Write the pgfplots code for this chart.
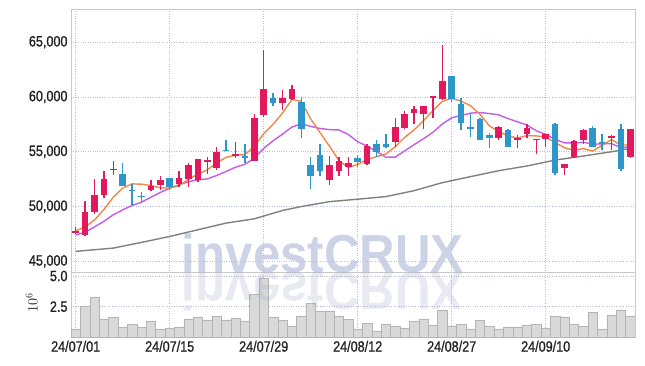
\documentclass[border=0pt]{standalone}
\usepackage{pgfplots}
\pgfplotsset{compat=1.18}
\usepackage{pgfplotstable}
\usepackage{graphicx}
\usepackage{fontspec}
\setmainfont{Liberation Sans}[FakeStretch=0.86]
\newfontfamily\tickfont{Liberation Sans}[FakeStretch=0.84, FakeBold=0.9]
\newfontfamily\wmfont{Liberation Sans}

\definecolor{cup}{HTML}{E3195E}
\definecolor{cdn}{HTML}{2E96C8}
\definecolor{maf}{HTML}{F0884C}
\definecolor{mam}{HTML}{C55CE6}
\definecolor{mas}{HTML}{808080}
\definecolor{gridc}{HTML}{B9BFD6}
\definecolor{framec}{HTML}{C8C8C8}
\definecolor{volf}{HTML}{D9D9D9}
\definecolor{vold}{HTML}{B5B5B5}
\definecolor{wm}{HTML}{CDD3E7}
\definecolor{wmr}{HTML}{9AA0C0}
\definecolor{lab}{HTML}{222222}

% up (red) candles: x open high low close
\pgfplotstableread{
x o h l c
0 47600 48100 47500 47800
1 47400 50500 47350 49500
2 49500 52500 49350 51050
3 51050 53200 50800 52500
4 53300 54200 52900 53450
8 51550 52400 51450 51900
9 51950 52800 51500 52400
11 52050 53250 51800 52600
12 52500 53950 51800 53800
13 52450 54350 52250 54300
14 54050 54500 52950 54250
15 53500 55450 53350 55000
17 54650 55900 54450 54800
19 54200 58400 54150 58050
20 58350 64300 58200 60750
22 59450 60650 58800 59900
23 59800 61100 59700 60750
27 52450 54650 51950 53750
28 53200 54500 52750 54200
29 53650 54500 52800 53950
31 53900 55750 53750 55500
34 55900 58100 55450 57250
35 57200 58750 57100 58400
36 58550 59150 57500 58900
37 58400 59150 57050 59150
38 59880 60050 58100 60050
39 59800 64700 59700 61500
45 56250 57350 56100 57250
47 56050 56500 55300 56250
48 56650 57500 56300 57150
49 56030 56200 54750 56150
50 56200 56650 55450 56600
52 53500 53900 52900 53900
53 54500 56050 54450 55950
54 56100 57100 55700 56950
57 56250 56550 55150 56450
59 54550 57050 54450 57050
}\up

% down (blue) candles
\pgfplotstableread{
x o h l c
5 52950 53950 51900 51900
6 51550 52100 50150 51400
7 50980 51350 50450 50850
10 52600 52650 51500 51750
16 55200 56050 55100 55050
18 54600 55700 53950 54450
21 59900 60400 59200 59450
24 59500 60000 56300 57100
25 53800 54500 51600 52750
26 54700 55700 52750 53200
30 54400 54700 53650 54100
32 55700 56050 54550 55000
33 55700 56650 55300 55450
40 61900 61900 59550 59800
41 59400 59950 56950 57600
42 57250 58550 56350 57100
43 57950 58050 56100 56100
44 56500 56750 55300 56250
46 56950 57050 55400 55450
51 57550 57650 52900 53050
55 57150 57350 55450 55450
56 55850 56650 55150 55750
58 57050 57500 53250 53450
}\down

% moving averages
\pgfplotstableread{
x m5 m10
0 47790 47400
1 48130 47650
2 48780 48150
3 49720 48650
4 50860 49250
5 51680 49700
6 52070 50100
7 52040 50400
8 51920 50850
9 51710 51285
10 51680 51680
11 51910 51990
12 52490 52265
13 52970 52445
14 53340 52525
15 53990 52835
16 54490 53200
17 54690 53590
18 54730 53850
19 55490 54415
20 56640 55315
21 57510 56000
22 58530 56610
23 59780 57255
24 59590 57540
25 57990 57315
26 56740 57125
27 55510 57020
28 54200 56990
29 53570 56580
30 53840 55915
31 54300 55520
32 54550 55030
33 54800 54500
34 55460 54515
35 56320 55080
36 57000 55650
37 57830 56190
38 58750 56775
39 59600 57530
40 59880 58100
41 59620 58310
42 59210 58520
43 58420 58585
44 57370 58485
45 56860 58370
46 56430 58025
47 56260 57735
48 56470 57445
49 56450 56910
50 56320 56590
51 55840 56135
52 55370 55815
53 55130 55800
54 55290 55870
55 55060 55690
56 55600 55720
57 56110 55740
58 55610 55370
59 55630 55460
}\ma

\pgfplotstableread{
x m
0 45910
4 46210
7 46730
10 47270
13 47880
16 48490
19 48880
22 49640
24 50000
27 50450
30 50670
33 50910
36 51450
39 52180
42 52730
45 53270
48 53700
51 54240
54 54610
57 55000
59 55300
}\malong

\pgfplotstableread{
x v
0 0.68
1 2.57
2 3.28
3 1.50
4 1.67
5 0.85
6 1.07
7 0.85
8 1.34
9 0.68
10 0.77
11 0.85
12 1.50
13 1.67
14 1.42
15 1.72
16 1.42
17 1.56
18 1.34
19 3.47
20 4.84
21 1.67
22 1.39
23 0.93
24 1.75
25 2.79
26 2.16
27 2.16
28 1.75
29 1.48
30 0.68
31 1.15
32 0.52
33 1.07
34 0.93
35 0.77
36 1.31
37 1.50
38 0.98
39 2.21
40 0.93
41 1.07
42 0.68
43 1.39
44 0.93
45 0.68
46 0.85
47 0.85
48 1.01
49 1.09
50 0.77
51 1.75
52 1.67
53 1.09
54 0.93
55 2.05
56 0.68
57 1.83
58 2.24
59 1.75
}\vol

\pgfplotsset{
  common/.style={
    scale only axis, width=564bp,
    xmin=-0.5, xmax=59.5,
    xtick={0,10,20,30,40,50},
    grid=major,
    major grid style={dotted, gridc, line width=0.6bp},
    axis line style={framec, line width=0.8bp},
    major tick length=0pt,
    scaled y ticks=false, scaled x ticks=false,
    tick label style={font=\tickfont\fontsize{15bp}{15bp}\selectfont, text=lab},
  },
  wick/.style={no markers, draw=none, forget plot,
    error bars/.cd, y dir=plus, y explicit, error mark=none,
    error bar style={draw=#1, line width=1.3bp, solid}},
  body/.style={no markers, draw=none, forget plot,
    error bars/.cd, y dir=plus, y explicit, error mark=none,
    error bar style={draw=#1, line width=6.6bp, solid}},
}

\begin{document}
\begin{tikzpicture}
\path[use as bounding box] (-71bp,-93.7bp) rectangle (574bp,272.3bp);
\node[anchor=base west, inner sep=0, text=wm] at (110.7bp,0)
  {\wmfont\bfseries\fontsize{53.5bp}{60bp}\selectfont\scalebox{0.92}[1]{investCRUX}};

\begin{axis}[common, name=main, at={(0,0)}, anchor=south west,
  height=263bp, ymin=44000, ymax=68000,
  ytick={45000,50000,55000,60000,65000},
  yticklabels={{45,000},{50,000},{55,000},{60,000},{65,000}},
  xticklabels={},
]
\addplot[mas, line width=1.4bp] table[x=x, y=m] {\malong};
\addplot[mam, line width=1.4bp] table[x=x, y=m10] {\ma};
\addplot[maf, line width=1.4bp] table[x=x, y=m5] {\ma};
\addplot[wick=cup] table[x=x, y=l, y error expr=\thisrow{h}-\thisrow{l}] {\up};
\addplot[body=cup] table[x=x, y=o, y error expr=\thisrow{c}-\thisrow{o}] {\up};
\addplot[wick=cdn] table[x=x, y=l, y error expr=\thisrow{h}-\thisrow{l}] {\down};
\addplot[body=cdn] table[x=x, y=c, y error expr=\thisrow{o}-\thisrow{c}] {\down};
\end{axis}

\begin{axis}[common, at={(0,0)}, anchor=north west,
  height=65bp, ymin=0, ymax=5.3,
  ytick={2.5,5}, yticklabels={2.5,5.0},
  xticklabels={24/07/01,24/07/15,24/07/29,24/08/12,24/08/27,24/09/10},
]
\addplot[ybar, bar width=1, fill=volf, draw=vold, line width=0.5bp] table[x=x, y=v] {\vol};
\end{axis}

\node[anchor=base west, inner sep=0, text=wmr, opacity=0.22] at (110.7bp,0)
  {\wmfont\bfseries\fontsize{53.5bp}{60bp}\selectfont\scalebox{0.92}[-1]{investCRUX}};
\node[rotate=90, text=lab] at (-39.3bp,-30bp) {\fontsize{14bp}{14bp}\selectfont$10^6$};
\end{tikzpicture}
\end{document}
